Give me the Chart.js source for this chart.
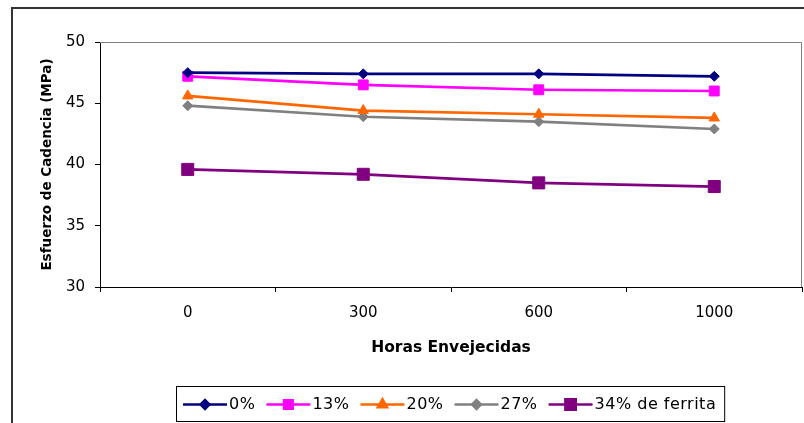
<!DOCTYPE html>
<html>
<head>
<meta charset="utf-8">
<script src="https://cdn.jsdelivr.net/npm/chart.js@4/dist/chart.umd.min.js"></script>
<style>
  html, body { margin: 0; padding: 0; background: #fff; }
  #wrap { width: 804px; height: 423px; position: relative; }
</style>
</head>
<body>
<div id="wrap"><canvas id="c" width="804" height="423"></canvas></div>
<script>
// Aging hours (categories)
const horas = ['0', '300', '600', '1000'];

// Yield stress (MPa) per ferrite content
const ferrita0  = [47.5, 47.4, 47.4, 47.2];
const ferrita13 = [47.2, 46.5, 46.1, 46.0];
const ferrita20 = [45.6, 44.4, 44.1, 43.8];
const ferrita27 = [44.8, 43.9, 43.5, 42.9];
const ferrita34 = [39.6, 39.2, 38.5, 38.2];

const seriesNames = ['0%', '13%', '20%', '27%', '34% de ferrita'];

// Value axis range
const yMin = 30, yMax = 50, yStep = 5;

const FONT = '"DejaVu Sans", "Liberation Sans", Arial, sans-serif';

// Outer chart border, plot-area frame and the boxed legend
const framePlugin = {
  id: 'frame',
  beforeDraw(chart) {
    const ctx = chart.ctx;
    ctx.save();
    ctx.fillStyle = '#fff';
    ctx.fillRect(0, 0, chart.width, chart.height);
    ctx.strokeStyle = '#333';
    ctx.lineWidth = 2;
    ctx.strokeRect(12, 8, chart.width, chart.height);
    ctx.restore();
  },
  beforeDatasetsDraw(chart) {
    const { ctx, chartArea: a } = chart;
    ctx.save();
    ctx.strokeStyle = '#808080';
    ctx.lineWidth = 1;
    ctx.beginPath();
    ctx.moveTo(a.left, a.top + 0.5);
    ctx.lineTo(a.right - 0.5, a.top + 0.5);
    ctx.lineTo(a.right - 0.5, a.bottom);
    ctx.stroke();
    ctx.restore();
  },
  afterDraw(chart) {
    const ctx = chart.ctx;
    const boxLeft = 176, boxTop = 386, boxH = 35;
    const cy = boxTop + boxH / 2 + 1;
    const sample = 44;
    ctx.save();
    ctx.font = '16px ' + FONT;
    ctx.letterSpacing = '0.5px';
    ctx.textBaseline = 'middle';
    ctx.textAlign = 'left';
    let x = boxLeft + 7;
    chart.data.datasets.forEach((ds) => {
      ctx.strokeStyle = ds.borderColor;
      ctx.lineWidth = ds.borderWidth;
      ctx.beginPath();
      ctx.moveTo(x, cy);
      ctx.lineTo(x + sample, cy);
      ctx.stroke();
      ctx.fillStyle = ds.pointBackgroundColor;
      ctx.strokeStyle = ds.pointBorderColor;
      Chart.helpers.drawPoint(ctx, {
        pointStyle: ds.pointStyle,
        radius: ds.pointRadius * 0.85,
        rotation: 0,
        borderWidth: 1
      }, x + sample / 2, cy);
      ctx.fillStyle = '#000';
      ctx.fillText(ds.label, x + sample + 2, cy);
      x += sample + 2 + ctx.measureText(ds.label).width + 11;
    });
    const boxRight = x - 11 + 8;
    ctx.strokeStyle = '#000';
    ctx.lineWidth = 1;
    ctx.letterSpacing = '0px';
    ctx.strokeRect(boxLeft + 0.5, boxTop + 0.5, boxRight - boxLeft, boxH);
    ctx.restore();
  }
};

function serie(label, data, color, style, radius) {
  return {
    label, data,
    borderColor: color,
    backgroundColor: color,
    pointBackgroundColor: color,
    pointBorderColor: color,
    borderWidth: 2.7,
    pointStyle: style,
    pointRadius: radius,
    pointBorderWidth: 1,
    tension: 0,
    fill: false
  };
}

new Chart(document.getElementById('c'), {
  type: 'line',
  data: {
    labels: horas,
    datasets: [
      serie(seriesNames[0], ferrita0,  '#000080', 'rectRot', 5),
      serie(seriesNames[1], ferrita13, '#FF00FF', 'rect', 7),
      serie(seriesNames[2], ferrita20, '#FF6600', 'triangle', 6),
      serie(seriesNames[3], ferrita27, '#808080', 'rectRot', 5),
      serie(seriesNames[4], ferrita34, '#800080', 'rect', 8.5)
    ]
  },
  options: {
    responsive: false,
    devicePixelRatio: 1,
    animation: false,
    layout: {
      autoPadding: false,
      padding: { top: 42, right: 2, bottom: 61, left: 0 }
    },
    plugins: {
      legend: { display: false },
      tooltip: { enabled: false },
      title: { display: false }
    },
    scales: {
      x: {
        type: 'category',
        offset: true,
        grid: {
          offset: true,
          drawOnChartArea: false,
          drawTicks: true,
          tickLength: 5,
          tickColor: '#000'
        },
        border: { display: true, color: '#000', width: 1 },
        ticks: {
          color: '#000',
          font: { family: FONT, size: 15 },
          padding: 12,
          maxRotation: 0,
          autoSkip: false
        },
        title: {
          display: true,
          text: 'Horas Envejecidas',
          color: '#000',
          font: { family: FONT, size: 15.5, weight: 'bold' },
          padding: { top: 0, bottom: 5 }
        },
        afterFit(scale) {
          scale.height = 75;
          scale.paddingLeft = 0;
          scale.paddingRight = 0;
        }
      },
      y: {
        min: yMin,
        max: yMax,
        grid: {
          drawOnChartArea: false,
          drawTicks: true,
          tickLength: 5,
          tickColor: '#000'
        },
        border: { display: true, color: '#000', width: 1 },
        ticks: {
          stepSize: yStep,
          color: '#000',
          font: { family: FONT, size: 15 },
          padding: 10
        },
        title: {
          display: true,
          text: 'Esfuerzo de Cadencia (MPa)',
          color: '#000',
          font: { family: FONT, size: 13.5, weight: 'bold' },
          padding: { top: 39, bottom: 0 }
        },
        afterFit(scale) {
          scale.width = 100;
          scale.paddingTop = 0;
          scale.paddingBottom = 0;
        }
      }
    }
  },
  plugins: [framePlugin]
});
</script>
</body>
</html>
